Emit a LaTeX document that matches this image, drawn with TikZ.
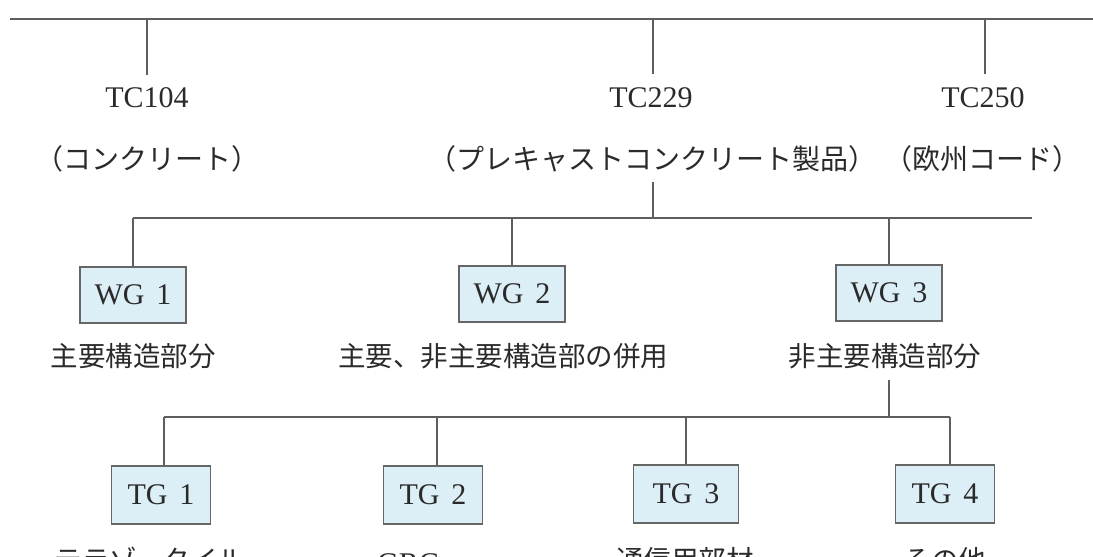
\documentclass[tikz,border=0pt]{standalone}
\usepackage{fontspec}
\setmainfont{Liberation Serif}
\newfontfamily\jp{Noto Sans CJK JP}
\definecolor{linec}{HTML}{5E5E5E}
\definecolor{boxfill}{HTML}{DCEEF6}
\definecolor{boxdraw}{HTML}{666666}
\definecolor{txt}{HTML}{2A2A2A}
\begin{document}
\begin{tikzpicture}[x=1pt,y=-1pt,
  conn/.style={draw=linec,line width=1.3pt},
  tclabel/.style={inner sep=0pt,text=txt,font=\fontsize{30}{32}\selectfont},
  tcsub/.style={inner sep=0pt,text=txt,font=\jp\fontsize{28}{30}\selectfont},
  grpbox/.style={draw=boxdraw,fill=boxfill,line width=1.1pt,minimum height=56pt,inner sep=0pt,text=txt,font=\fontsize{30}{32}\selectfont},
  grplabel/.style={inner sep=0pt,text=txt,font=\jp\fontsize{27.5}{30}\selectfont}]
\useasboundingbox (0,0) rectangle (1093,557);
% top level bus
\coordinate (busL) at (10,19);
\coordinate (busR) at (1093,19);
\coordinate (b104) at (147,19);
\coordinate (b229) at (653,19);
\coordinate (b250) at (985,19);
\draw[conn] (busL) -- (busR);
% TC nodes
\node[tclabel] (tc104) at (147,98) {TC104};
\node[tclabel] (tc229) at (651,98) {TC229};
\node[tclabel] (tc250) at (983,98) {TC250};
\node[tcsub] (s104) at (147,159) {（コンクリート）};
\node[tcsub] (s229) at (652,159) {（プレキャストコンクリート製品）};
\node[tcsub] (s250) at (982,159) {（欧州コード）};
\draw[conn] (b104) -- (147,75);
\draw[conn] (b229) -- (653,74);
\draw[conn] (b250) -- (985,74);
% WG bus
\coordinate (wgL) at (133,218);
\coordinate (wgR) at (1032,218);
\coordinate (w2) at (512,218);
\coordinate (w3) at (889,218);
\coordinate (s229b) at (653,182);
\coordinate (s229c) at (653,218);
\draw[conn] (s229b) -- (s229c);
\draw[conn] (wgL) -- (wgR);
% WG boxes
\node[grpbox,minimum width=106pt] (wg1) at (133,295) {WG\hspace{0.4em}1};
\node[grpbox,minimum width=106pt] (wg2) at (512,294) {WG\hspace{0.4em}2};
\node[grpbox,minimum width=106pt] (wg3) at (889,293) {WG\hspace{0.4em}3};
\draw[conn] (wgL) -- (wg1.north);
\draw[conn] (w2) -- (wg2.north);
\draw[conn] (w3) -- (wg3.north);
\node[grplabel] (l1) at (133,356) {主要構造部分};
\node[grplabel] (l2) at (503,356) {主要、非主要構造部の併用};
\node[grplabel] (l3) at (885,356) {非主要構造部分};
% TG bus
\coordinate (l3b) at (889,380);
\coordinate (tgJ) at (889,417);
\coordinate (tgL) at (164,417);
\coordinate (tgR) at (950,417);
\coordinate (t2) at (437,417);
\coordinate (t3) at (686,417);
\draw[conn] (l3b) -- (tgJ);
\draw[conn] (tgL) -- (tgR);
% TG boxes
\node[grpbox,minimum width=99pt,minimum height=58pt] (tg1) at (161,495) {TG\hspace{0.4em}1};
\node[grpbox,minimum width=99pt,minimum height=58pt] (tg2) at (433,495) {TG\hspace{0.4em}2};
\node[grpbox,minimum width=105pt,minimum height=58pt] (tg3) at (686,494) {TG\hspace{0.4em}3};
\node[grpbox,minimum width=99pt,minimum height=58pt] (tg4) at (945,494) {TG\hspace{0.4em}4};
\draw[conn] (tgL) -- (tgL |- tg1.north);
\draw[conn] (t2) -- (t2 |- tg2.north);
\draw[conn] (t3) -- (tg3.north);
\draw[conn] (tgR) -- (tgR |- tg4.north);
\node[grplabel] (m1) at (150,560) {テラゾ、タイル};
\node[tclabel] (m2) at (408,564) {GRC};
\node[grplabel] (m3) at (685,560) {通信用部材};
\node[grplabel] (m4) at (945,560) {その他};
\end{tikzpicture}
\end{document}
